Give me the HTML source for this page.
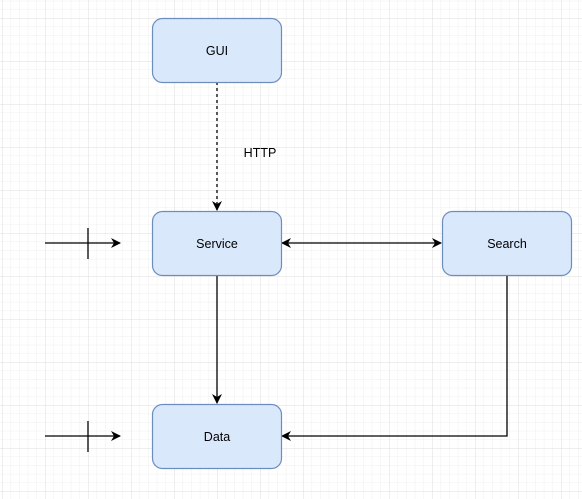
<!DOCTYPE html>
<html><head><style>
html,body{margin:0;padding:0;background:#fff;}
svg{display:block;font-family:"Liberation Sans",Arial,sans-serif;}
</style></head><body>
<svg width="582" height="499" xmlns="http://www.w3.org/2000/svg">
<defs>
<pattern id="minor" x="2" y="18" width="8.6" height="8.6" patternUnits="userSpaceOnUse">
<path d="M0 0H8.6M0 0V8.6" stroke="#efefef" stroke-width="1" fill="none"/>
</pattern>
<pattern id="major" x="2" y="-25" width="43" height="43" patternUnits="userSpaceOnUse">
<path d="M0 0H43M0 0V43" stroke="#dedede" stroke-width="1" fill="none"/>
</pattern>
<marker id="ar" viewBox="0 0 10 10" refX="9" refY="5" markerWidth="10" markerHeight="10" orient="auto-start-reverse" markerUnits="userSpaceOnUse">
<path d="M0 0L10 5L0 10L3 5Z" fill="#000"/>
</marker>
</defs>
<rect width="582" height="499" fill="url(#minor)"/>
<rect width="582" height="499" fill="url(#major)"/>
<g fill="none" stroke="#000" stroke-width="1.3">
<path d="M217 82V210" stroke-dasharray="3,3" marker-end="url(#ar)"/>
<path d="M282 243H441" marker-start="url(#ar)" marker-end="url(#ar)"/>
<path d="M217 275V403" marker-end="url(#ar)"/>
<path d="M507 275V436H282" marker-end="url(#ar)"/>
<path d="M45 243H120" marker-end="url(#ar)"/>
<path d="M88 228V259"/>
<path d="M45 436H120" marker-end="url(#ar)"/>
<path d="M88 421V452"/>
</g>
<g fill="#dae8fc" stroke="#6c8ebf" stroke-width="1.2">
<rect x="152.5" y="18.5" width="129" height="64" rx="10"/>
<rect x="152.5" y="211.5" width="129" height="64" rx="10"/>
<rect x="442.5" y="211.5" width="129" height="64" rx="10"/>
<rect x="152.5" y="404.5" width="129" height="64" rx="10"/>
</g>
<g font-size="12.5" fill="#000" text-anchor="middle">
<text x="217" y="55">GUI</text>
<text x="217" y="248">Service</text>
<text x="507" y="248">Search</text>
<text x="217" y="441">Data</text>
<text x="260" y="157">HTTP</text>
</g>
</svg>
</body></html>
